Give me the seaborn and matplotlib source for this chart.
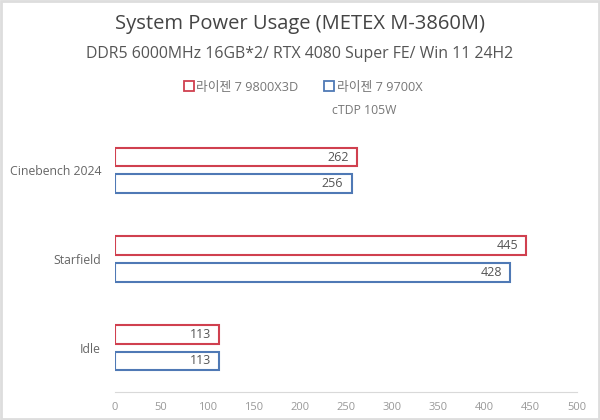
import matplotlib
matplotlib.use("Agg")
import matplotlib.pyplot as plt
from matplotlib.patches import Rectangle
import pandas as pd
import seaborn as sns

# data
tests = ["Cinebench 2024", "Starfield", "Idle"]
cpus = ["라이젠 7 9800X3D", "라이젠 7 9700X"]
power_9800x3d = [262, 445, 113]
power_9700x = [256, 428, 113]
cpu_colors = ["#d0404f", "#4f79b5"]

df = pd.DataFrame({
    "Test": tests * 2,
    "CPU": [cpus[0]] * 3 + [cpus[1]] * 3,
    "Power": power_9800x3d + power_9700x,
})

sns.set_style("white")
plt.rcParams["font.family"] = ["Open Sans", "Noto Sans CJK KR", "DejaVu Sans"]

fig = plt.figure(figsize=(6, 4.2), dpi=100)
ax = fig.add_axes([115 / 600, 1 - 392 / 420, 462 / 600, 266 / 420])

sns.barplot(data=df, y="Test", x="Power", hue="CPU", orient="h",
            palette=cpu_colors, fill=False, linewidth=1.5,
            width=0.6, gap=0.3, legend=False, ax=ax)

for cont in ax.containers:
    labels = ax.bar_label(cont, padding=-6, fontsize=9, color="#555555")
    for t in labels:
        t.set_ha("right")

ax.set_xlim(0, 500)
ax.set_xticks(range(0, 501, 50))
ax.tick_params(axis="x", labelsize=8, labelcolor="#999999", length=0, pad=7)
ax.tick_params(axis="y", labelsize=8.8, labelcolor="#666666", length=0, pad=10)
ax.set_xlabel("")
ax.set_ylabel("")
for s in ["top", "right", "left"]:
    ax.spines[s].set_visible(False)
ax.spines["bottom"].set_color("#d9d9d9")
ax.spines["bottom"].set_linewidth(0.8)

fig.text(0.5, 1 - 24 / 420, "System Power Usage (METEX M-3860M)", ha="center",
         va="center", fontsize=14.5, color="#444444")
fig.text(0.5, 1 - 54 / 420, "DDR5 6000MHz 16GB*2/ RTX 4080 Super FE/ Win 11 24H2",
         ha="center", va="center", fontsize=11.4, color="#555555")

handles = [Rectangle((0, 0), 1, 1, facecolor="white", edgecolor=c, linewidth=1.3)
           for c in cpu_colors]
fig.legend(handles, cpus, loc="center", bbox_to_anchor=(0.505, 1 - 87 / 420),
           ncol=2, frameon=False, fontsize=9.2, labelcolor="#777777",
           handlelength=0.8, handleheight=0.8, handletextpad=0.2, columnspacing=2.0)
fig.text(332 / 600, 1 - 110 / 420, "cTDP 105W", ha="left", va="center",
         fontsize=8.8, color="#777777")

fig.patches.append(Rectangle((0.002, 0.002), 0.996, 0.996, transform=fig.transFigure,
                             fill=False, edgecolor="#dddddd", linewidth=2))

fig.savefig("out.png", dpi=100, facecolor="white")
